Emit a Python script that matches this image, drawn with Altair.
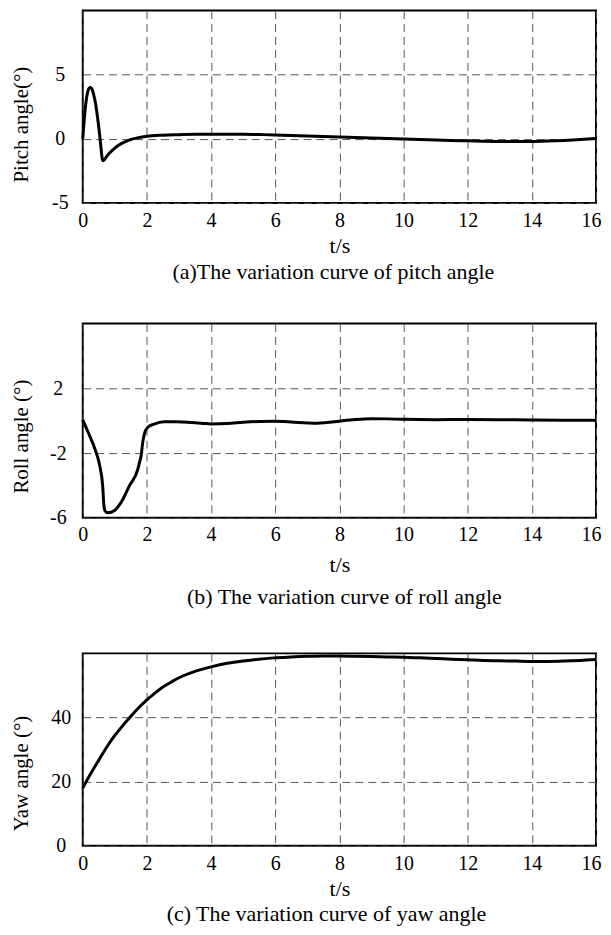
import altair as alt
import pandas as pd

# ---- data ----
t_pitch = [0, 0.04, 0.08, 0.12, 0.16, 0.2, 0.24, 0.3, 0.34, 0.38, 0.42, 0.46, 0.5, 0.54, 0.58, 0.61,
           0.64, 0.68, 0.74, 0.82, 0.92, 1.05, 1.2, 1.35, 1.5, 1.7, 2.0, 2.5, 3, 3.5, 4, 4.5, 5, 5.5,
           6, 6.5, 7, 7.5, 8, 8.5, 9, 9.5, 10, 10.5, 11, 11.5, 12, 12.5, 13, 13.5, 14, 14.5, 15, 15.5, 16]
v_pitch = [0, 1.3, 2.4, 3.2, 3.7, 3.95, 4.0, 3.8, 3.45, 3.0, 2.4, 1.7, 0.9, 0.0, -1.0, -1.6,
           -1.72, -1.62, -1.4, -1.15, -0.9, -0.62, -0.38, -0.2, -0.06, 0.07, 0.2, 0.28, 0.32, 0.35, 0.36, 0.36, 0.35, 0.33,
           0.3, 0.26, 0.22, 0.18, 0.14, 0.1, 0.06, 0.02, -0.02, -0.06, -0.1, -0.13, -0.16, -0.19, -0.21, -0.22, -0.21, -0.18, -0.13, -0.06, 0.02]

t_roll = [0, 0.17, 0.38, 0.53, 0.62, 0.66, 0.69, 0.79, 0.99, 1.2, 1.46, 1.72, 1.77, 1.82, 1.87, 1.92,
          2.02, 2.22, 2.53, 2.94, 3.4, 3.76, 4, 4.5, 5, 5.5, 6, 6.5, 7, 7.3, 7.6, 8, 8.5, 9, 9.5, 10,
          11, 12, 13, 14, 15, 16]
v_roll = [0.05, -0.73, -1.75, -2.78, -4.0, -5.24, -5.55, -5.69, -5.55, -5.03, -4.0, -2.98, -2.57, -2.17, -1.34, -0.83,
          -0.42, -0.22, -0.07, -0.07, -0.12, -0.17, -0.2, -0.18, -0.1, -0.05, -0.04, -0.08, -0.14, -0.16, -0.12, -0.03, 0.07, 0.12, 0.11, 0.08,
          0.06, 0.07, 0.06, 0.04, 0.03, 0.03]

t_yaw = [0, 0.25, 0.5, 0.75, 1.0, 1.25, 1.5, 1.75, 2.0, 2.25, 2.5, 2.75, 3.0, 3.5, 4, 4.5, 5, 5.5, 6, 6.5,
         7, 7.5, 8, 8.5, 9, 9.5, 10, 10.5, 11, 11.5, 12, 12.5, 13, 13.5, 14, 14.5, 15, 15.5, 16]
v_yaw = [18.0, 22.5, 26.7, 30.8, 34.4, 37.5, 40.4, 43.1, 45.5, 47.6, 49.5, 51.0, 52.4, 54.4, 55.8, 56.9, 57.6, 58.2, 58.6, 58.9,
         59.1, 59.2, 59.2, 59.1, 59.0, 58.9, 58.8, 58.6, 58.4, 58.2, 58.0, 57.8, 57.7, 57.6, 57.5, 57.5, 57.6, 57.8, 58.1]

x_ticks = [0, 2, 4, 6, 8, 10, 12, 14, 16]

FONT = "Liberation Serif"
LABEL_EXPR = "datum.value < 0 ? '-' + (-datum.value) : '' + datum.value"
PLOT_W = 515


def panel(t, v, ydomain, yticks, ytitle, caption, height,
          lab_pad_x, title_pad_x, y_lab_pad, y_title_y, cap_offset, cap_dx):
    df = pd.DataFrame({"t": t, "v": v})
    return alt.Chart(df).mark_line(
        color="black", strokeWidth=3, interpolate="monotone"
    ).encode(
        x=alt.X("t:Q", scale=alt.Scale(domain=[0, 16], nice=False, zero=False),
                axis=alt.Axis(values=x_ticks, title="t/s", labelPadding=lab_pad_x,
                              titlePadding=title_pad_x, labelFlush=True, labelFlushOffset=5,
                              labelFont=FONT, labelFontSize=20, titleFont=FONT, titleFontSize=22)),
        y=alt.Y("v:Q", scale=alt.Scale(domain=ydomain, nice=False, zero=False),
                axis=alt.Axis(values=yticks, title=ytitle, labelPadding=y_lab_pad,
                              labelAlign="center", labelFlush=False, labelExpr=LABEL_EXPR,
                              labelFont=FONT, labelFontSize=20, titleFont=FONT, titleFontSize=21,
                              titleX=-51, titleY=y_title_y, titleAngle=270,
                              titleBaseline="bottom", titleAlign="center")),
    ).properties(
        width=PLOT_W, height=height,
        title=alt.TitleParams(text=caption, orient="bottom", anchor="middle", frame="group",
                              offset=cap_offset, dx=cap_dx, fontSize=22, font=FONT,
                              fontWeight="normal", color="black"),
    )


a = panel(t_pitch, v_pitch, [-5, 10], [-5, 0, 5], "Pitch angle(°)",
          "(a)The variation curve of pitch angle", 193,
          8, 5, 23, 114, 5, -6)
b = panel(t_roll, v_roll, [-6, 6], [-6, -2, 2], "Roll angle (°)",
          "(b) The variation curve of roll angle", 195,
          6.4, 10, 25, 113, 12, 5)
c = panel(t_yaw, v_yaw, [0, 60], [0, 20, 40], "Yaw angle (°)",
          "(c) The variation curve of yaw angle", 193,
          8, 5, 22, 120, 5, -13)

chart = alt.vconcat(a, b, c, spacing=39).properties(
    padding={"left": 2, "top": 0, "right": 0, "bottom": 0}
).configure_view(
    stroke="black", strokeWidth=2
).configure_axis(
    grid=True, gridColor="#555555", gridDash=[8, 5], gridWidth=1,
    ticks=False, tickSize=0, domain=False,
    labelFont=FONT, labelFontSize=20, labelColor="black",
    titleFont=FONT, titleFontSize=21, titleFontWeight="normal", titleColor="black",
)

chart.save("out.html", embed_options={"renderer": "svg", "actions": False})
